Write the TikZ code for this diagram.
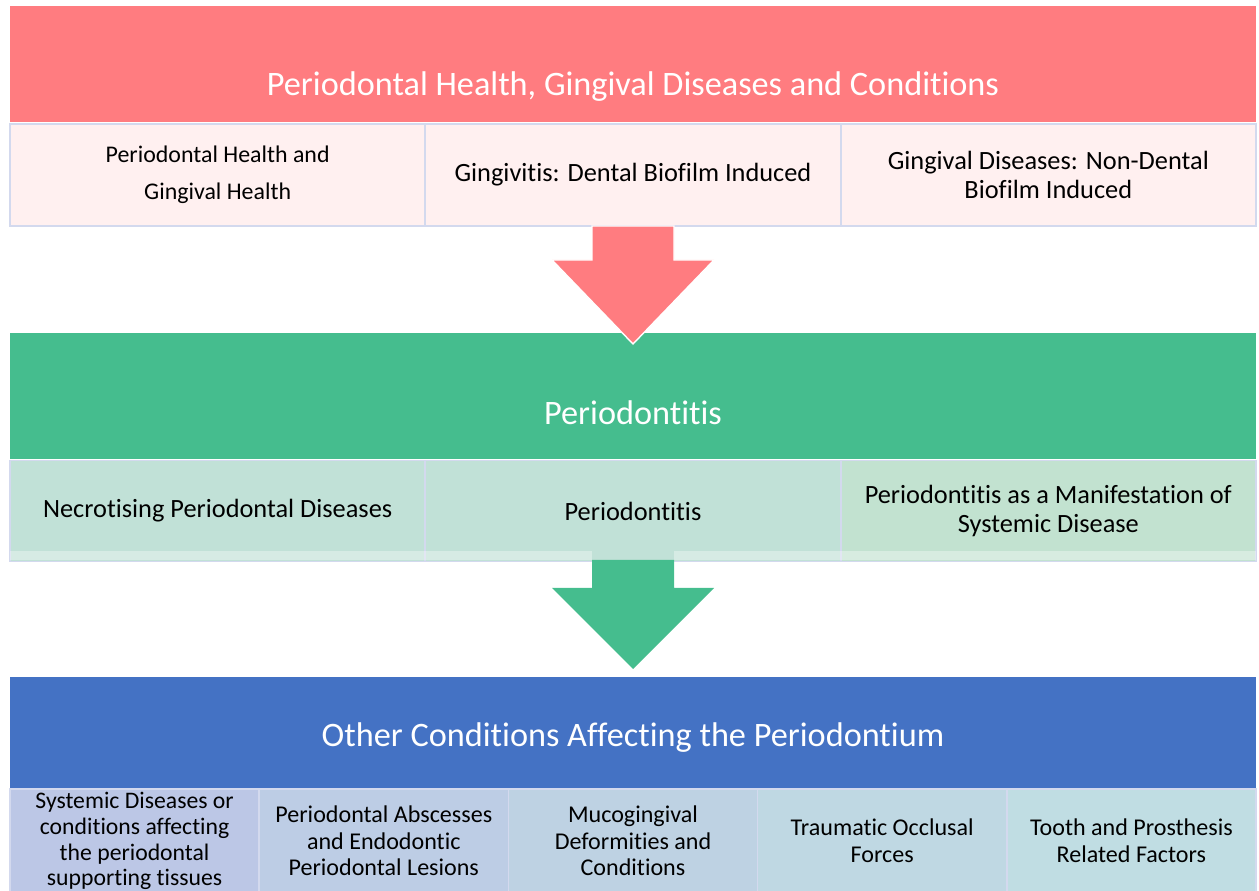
\documentclass[tikz,border=0pt]{standalone}
\usepackage{fontspec}
\setmainfont{Carlito}[Ligatures=NoCommon]
\usepackage{xcolor}
\usetikzlibrary{positioning}
\definecolor{healthred}{HTML}{FF7C80}
\definecolor{healthpink}{HTML}{FFF0F0}
\definecolor{perioGreen}{HTML}{45BD8E}
\definecolor{perioMint}{HTML}{C1E1D7}
\definecolor{perioMintB}{HTML}{C2E2D0}
\definecolor{otherBlue}{HTML}{4472C4}
\definecolor{otherA}{HTML}{BCC7E6}
\definecolor{otherB}{HTML}{BDCDE5}
\definecolor{otherC}{HTML}{BED2E3}
\definecolor{otherD}{HTML}{BFD8E3}
\definecolor{otherE}{HTML}{C0DDE3}
\definecolor{boxline}{HTML}{D3D9EE}

\begin{document}
\begin{tikzpicture}[x=0.02cm,y=-0.02cm]
\def\px{0.02cm}
\tikzstyle{every node}=[font=\fontsize{15}{16.5}\selectfont, align=center, inner sep=0pt, outer sep=0pt]
\tikzstyle{head}=[minimum width=1246*\px]
\tikzstyle{headtext}=[text=white, font=\fontsize{19.5}{23}\selectfont]
\tikzstyle{sub}=[draw=boxline, line width=1pt, minimum width=415.33*\px, minimum height=102*\px]
\tikzstyle{other}=[draw=boxline, line width=1pt, minimum width=249.2*\px, minimum height=104*\px, font=\fontsize{13.7}{15.2}\selectfont]

\useasboundingbox (0,0) rectangle (1259,891);

\node [head, fill=healthred, minimum height=116*\px] (health) at (633,64) {};
\node [headtext] (healthtitle) at (633,87) {Periodontal Health, Gingival Diseases and Conditions};
\node [sub, fill=healthpink, font=\fontsize{13.6}{21}\selectfont] (health1) at (217.67,175) {Periodontal Health and\\Gingival Health};
\node [sub, fill=healthpink, right=0pt of health1] (health2) {Gingivitis: Dental Biofilm Induced};
\node [sub, fill=healthpink, right=0pt of health2] (health3) {Gingival Diseases: Non-Dental\\Biofilm Induced};

\node [head, fill=perioGreen, minimum height=126*\px] (perio) at (633,396) {};
\node [headtext] (periotitle) at (633,413) {Periodontitis};
\node [sub, fill=perioMint, minimum height=101*\px] (perio1) at (217.67,511) {Necrotising Periodontal Diseases};
\node [sub, fill=perioMint, minimum height=101*\px, right=0pt of perio1] (perio2) {Periodontitis};
\node [sub, fill=perioMintB, minimum height=101*\px, right=0pt of perio2] (perio3) {Periodontitis as a Manifestation of\\Systemic Disease};
\fill [white, opacity=0.35] (10,551) rectangle (592,560);
\fill [white, opacity=0.35] (674,551) rectangle (1256,560);

\draw [draw=white, line width=0.8pt, fill=healthred] (592,226) -- (674,226) -- (674,260) -- (714,260) -- (633,344) -- (552,260) -- (592,260) -- cycle;

\node [head, fill=otherBlue, minimum height=112*\px] (other) at (633,733) {};
\node [headtext] (othertitle) at (633,738) {Other Conditions Affecting the Periodontium};
\node [other, fill=otherA, font=\fontsize{13.5}{14.7}\selectfont] (other1) at (134.6,841) {Systemic Diseases or\\conditions affecting\\the periodontal\\supporting tissues};
\node [other, fill=otherB, right=0pt of other1] (other2) {Periodontal Abscesses\\and Endodontic\\Periodontal Lesions};
\node [other, fill=otherC, right=0pt of other2] (other3) {Mucogingival\\Deformities and\\Conditions};
\node [other, fill=otherD, right=0pt of other3] (other4) {Traumatic Occlusal\\Forces};
\node [other, fill=otherE, right=0pt of other4] (other5) {Tooth and Prosthesis\\Related Factors};

\fill [perioGreen] (592,560) -- (674,560) -- (674,588) -- (714,588) -- (633,669) -- (552,588) -- (592,588) -- cycle;
\end{tikzpicture}
\end{document}
